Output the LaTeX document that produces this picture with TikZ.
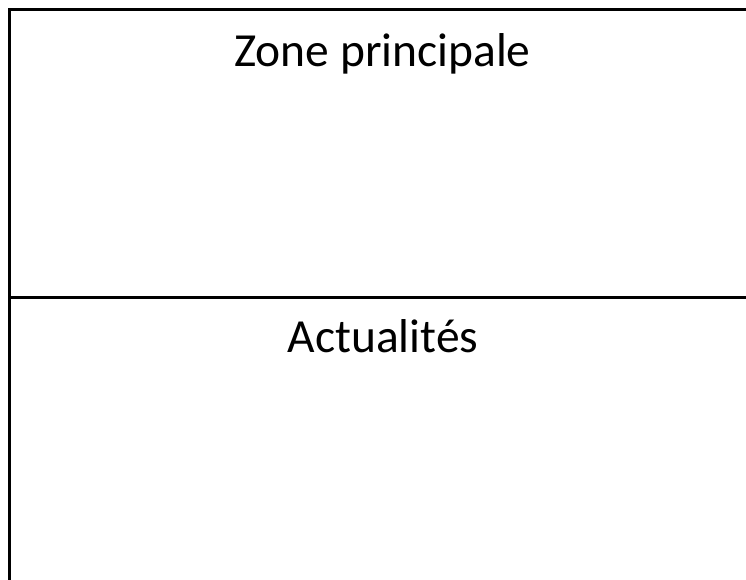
\documentclass[tikz,border=0pt]{standalone}
\usepackage{fontspec}
\setmainfont{Carlito}
\usetikzlibrary{positioning}

\tikzset{
	frameline/.style={draw=black,line width=3pt},
	zonelabel/.style={anchor=base,inner sep=0pt,font=\fontsize{47.5}{56}\selectfont}
}

\begin{document}
\begin{tikzpicture}[x=1pt,y=-1pt]
		
			\useasboundingbox (0,0) rectangle (746,580);
			\clip (0,0) rectangle (746,580);
			
			\coordinate (nw) at (9,10);
			\coordinate (se) at (756,620);
			\coordinate (dl) at (9,297);
			\coordinate (dr) at (756,297);
			
			\path[frameline] (nw) rectangle (se);
			\path[frameline] (dl) -- (dr);
			
			\node[zonelabel] (principale) at (382.5,67) {Zone principale};
			\node[zonelabel] (actualites) at (383,352) {Actualités};
		
		\end{tikzpicture}
\end{document}
